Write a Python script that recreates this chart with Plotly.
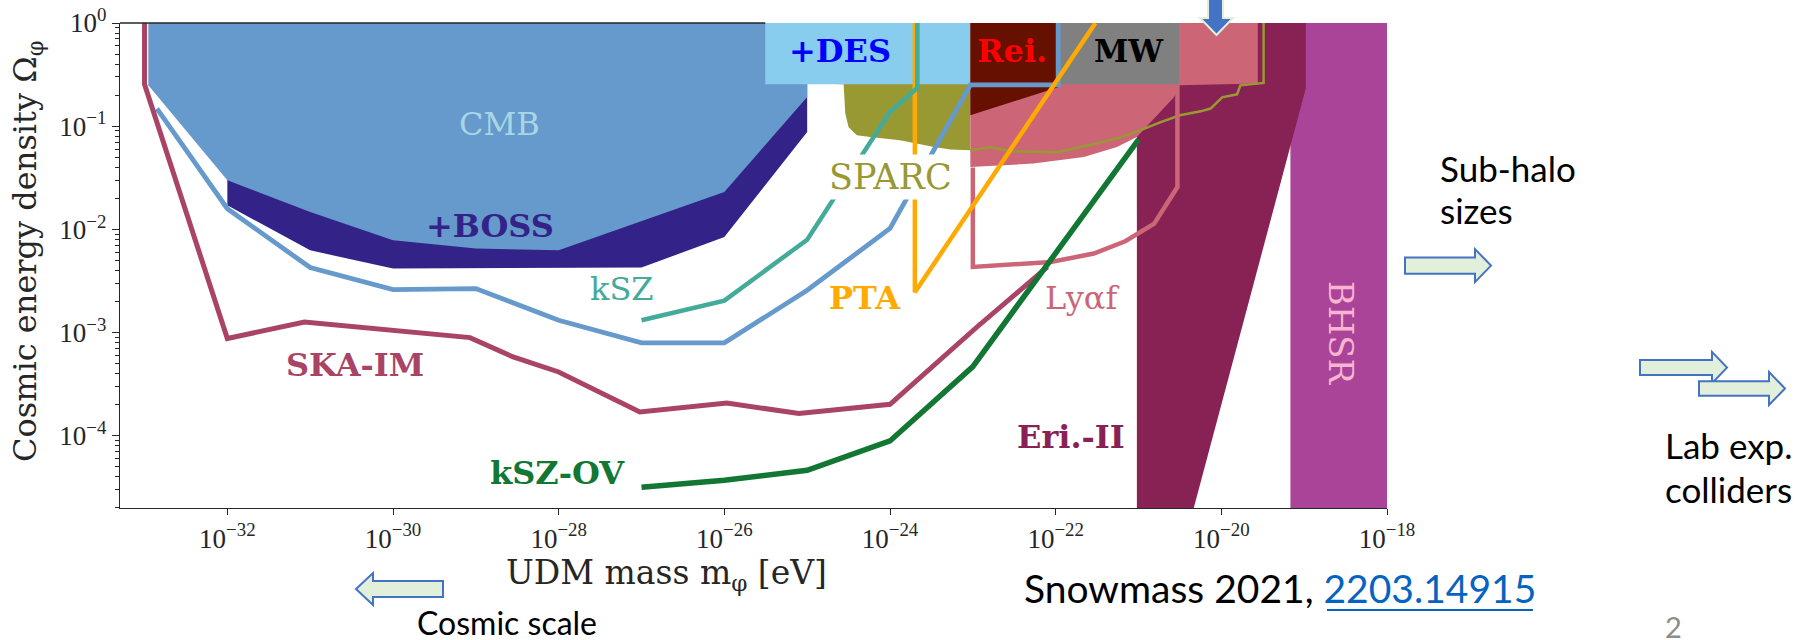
import plotly.graph_objects as go

# ---------------- data: log10(mass / eV), log10(Omega_phi) ----------------
# filled constraint regions
boss_logm = [-32.0, -32.0, -31.0, -30.0, -27.0, -26.0, -25.0, -25.0, -25.0, -32.0]
boss_logo = [-1.524, -1.767, -2.203, -2.38, -2.37, -2.074, -1.056, -0.6, 0.0, 0.0]

cmb_logm = [-32.954, -32.954, -32.0, -31.0, -30.0, -29.0, -28.0, -26.0, -25.0, -25.0]
cmb_logo = [0.0, -0.604, -1.524, -1.831, -2.106, -2.186, -2.203, -1.638, -0.717, 0.0]

sparc_fill_logm = [-24.94, -24.94, -24.56, -24.54, -24.50, -24.40, -24.24, -24.04, -23.88,
                   -23.71, -23.47, -23.27, -23.03, -23.03]
sparc_fill_logo = [0.0, -0.587, -0.594, -0.878, -1.01, -1.088, -1.105, -1.122, -1.137,
                   -1.163, -1.202, -1.227, -1.234, 0.0]

sparc_edge_logm = [-23.03, -22.79, -22.51, -21.98, -21.52, -21.22, -20.98, -20.74, -20.50,
                   -20.25, -20.13, -20.04, -19.99, -19.81, -19.77, -19.49, -19.49]
sparc_edge_logo = [-1.234, -1.204, -1.243, -1.253, -1.171, -1.108, -1.040, -0.963, -0.894,
                   -0.856, -0.829, -0.759, -0.720, -0.691, -0.604, -0.581, 0.0]

des_logm = [-25.506, -23.03, -23.03, -25.506]
des_logo = [0.0, 0.0, -0.594, -0.594]

rei_logm = [-23.03, -21.97, -21.97, -23.03]
rei_logo = [0.0, 0.0, -0.623, -0.894]

mw_logm = [-21.97, -20.51, -20.51, -21.97]
mw_logo = [0.0, 0.0, -0.594, -0.594]

lya_fill_logm = [-23.03, -19.56, -19.56, -20.51, -20.57, -21.02, -21.26, -21.66, -22.27, -23.03]
lya_fill_logo = [0.0, 0.0, -0.587, -0.604, -0.717, -1.105, -1.202, -1.298, -1.362, -1.395]

eri_logm = [-21.02, -21.02, -18.98, -18.98, -20.333]
eri_logo = [-4.70, 0.0, 0.0, -0.633, -4.70]

bhsr_logm = [-19.166, -18.0, -18.0, -19.166]
bhsr_logo = [0.0, 0.0, -4.70, -4.70]

# forecast / projection curves
lya_line_logm = [-20.53, -20.53, -20.81, -21.16, -21.54, -22.06, -23.0, -23.0]
lya_line_logo = [-0.60, -1.59, -1.945, -2.115, -2.234, -2.316, -2.364, -1.40]

blue_logm = [-32.85, -32.0, -31.0, -30.0, -29.0, -28.0, -27.0, -26.0, -25.0, -24.0, -23.03, -21.97, -21.97]
blue_logo = [-0.83, -1.80, -2.37, -2.583, -2.574, -2.881, -3.10, -3.10, -2.59, -1.99, -0.60, -0.60, 0.0]

pta_logm = [-23.70, -23.70, -21.52]
pta_logo = [0.0, -2.61, 0.0]

ksz_logm = [-27.0, -26.0, -25.0, -24.0, -23.67, -23.67]
ksz_logo = [-2.88, -2.69, -2.10, -0.86, -0.63, 0.0]

ska_logm = [-33.0, -33.0, -32.0, -31.07, -29.07, -28.55, -28.0, -27.02, -25.97, -25.10, -24.0, -22.95, -22.10]
ska_logo = [0.0, -0.594, -3.058, -2.897, -3.049, -3.236, -3.382, -3.769, -3.682, -3.785, -3.695, -2.946, -2.364]

ov_logm = [-27.0, -26.0, -25.0, -24.0, -23.0, -22.0, -21.0]
ov_logo = [-4.50, -4.43, -4.335, -4.05, -3.33, -2.23, -1.13]

# labels
label_text = ["CMB", "+BOSS", "kSZ", "SKA-IM", "kSZ-OV", "PTA", "SPARC", "+DES",
              "Rei.", "MW", "Ly\u03b1f", "Eri.-II", "BHSR"]
label_logm = [-28.71, -28.83, -27.23, -30.46, -28.01, -24.30, -24.00, -24.60,
              -22.53, -21.11, -21.68, -21.81, -18.56]
label_logo = [-0.977, -1.965, -2.576, -3.317, -4.363, -2.663, -1.49, -0.269,
              -0.269, -0.269, -2.668, -4.01, -3.007]
label_color = ["#A9D6E5", "#332288", "#44AA99", "#AA4466", "#117733", "#FFAA00", "#999933",
               "#0000FF", "#FF0000", "#000000", "#CC6677", "#882255", "#F8B4D0"]
label_bold = [False, True, False, True, True, True, False, True, True, True, False, True, False]
label_size = [32, 32, 32, 32, 32, 32, 35, 32, 32, 31, 32, 32, 34]
label_angle = [0, 0, 0, 0, 0, 0, 0, 0, 0, 0, 0, 0, 90]

x_tick_exp = [-32, -30, -28, -26, -24, -22, -20, -18]
y_tick_exp = [0, -1, -2, -3, -4]
x_range_log = [-33.296, -18.0]
y_range_log = [-4.70, 0.0]

# ---------------- figure ----------------
W, H = 1797, 640
ML, MR, MT, MB = 120, 410, 23, 132
PW, PH = W - ML - MR, H - MT - MB


def P(v):
    return [10.0 ** a for a in v]


def fx(px):
    return (px - ML) / PW


def fy(py):
    return (H - MB - py) / PH


fig = go.Figure()


def fill(lm, lo, color):
    fig.add_trace(go.Scatter(x=P(lm), y=P(lo), mode="lines", fill="toself",
                             fillcolor=color, line=dict(width=0), hoverinfo="skip",
                             showlegend=False))


def line(lm, lo, color, w):
    fig.add_trace(go.Scatter(x=P(lm), y=P(lo), mode="lines",
                             line=dict(color=color, width=w), hoverinfo="skip",
                             showlegend=False))


fill(boss_logm, boss_logo, "#332288")
fill(cmb_logm, cmb_logo, "#6699CC")
fill(sparc_fill_logm, sparc_fill_logo, "#999933")
fill(des_logm, des_logo, "#88CCEE")
fill(bhsr_logm, bhsr_logo, "#AA4499")
fill(eri_logm, eri_logo, "#882255")
fill(lya_fill_logm, lya_fill_logo, "#CC6677")
fill(rei_logm, rei_logo, "#661100")
fill(mw_logm, mw_logo, "#808080")
line(sparc_edge_logm, sparc_edge_logo, "#999933", 2.5)
line(lya_line_logm, lya_line_logo, "#CC6677", 4.5)
line(blue_logm, blue_logo, "#6699CC", 4.8)
line(pta_logm, pta_logo, "#FFAA00", 4.5)
line(ksz_logm, ksz_logo, "#44AA99", 4.5)
line(ska_logm, ska_logo, "#AA4466", 5)
line(ov_logm, ov_logo, "#117733", 5.5)

SERIF = "DejaVu Serif"
annotations = []
for t, lm, lo, c, b, s, a in zip(label_text, label_logm, label_logo, label_color, label_bold,
                                 label_size, label_angle):
    txt = f"<b>{t}</b>" if b else t
    ann = dict(x=lm, y=lo, xref="x", yref="y", text=txt, showarrow=False,
               font=dict(family=SERIF, size=s, color=c), textangle=a,
               xanchor="center", yanchor="middle")
    if t == "SPARC":
        ann.update(bgcolor="white", borderpad=2)
    annotations.append(ann)

# axis titles
annotations.append(dict(x=fx(666), y=fy(574), xref="paper", yref="paper",
                        text="UDM mass m<sub>\u03c6</sub> [eV]", showarrow=False,
                        font=dict(family=SERIF, size=33, color="#262626"),
                        xanchor="center", yanchor="middle"))
annotations.append(dict(x=fx(27), y=fy(252), xref="paper", yref="paper",
                        text="Cosmic energy density \u03a9<sub>\u03c6</sub>", showarrow=False,
                        font=dict(family=SERIF, size=32, color="#262626"), textangle=-90,
                        xanchor="center", yanchor="middle"))

# slide texts
SANS = "Lato"
slide_texts = [("Sub-halo", 1438, 168, "black", 35), ("sizes", 1438, 210, "black", 35),
               ("Lab exp.", 1663, 445, "black", 35), ("colliders", 1663, 489, "black", 35),
               ("Cosmic scale", 415, 622, "black", 32)]
for t, px, py, c, s in slide_texts:
    annotations.append(dict(x=fx(px), y=fy(py), xref="paper", yref="paper", text=t,
                            showarrow=False, font=dict(family=SANS, size=s, color=c),
                            xanchor="left", yanchor="middle"))
annotations.append(dict(x=fx(1022), y=fy(588), xref="paper", yref="paper",
                        text="Snowmass 2021, <span style='color:#0563C1'>2203.14915</span>",
                        showarrow=False, font=dict(family=SANS, size=39, color="black"),
                        xanchor="left", yanchor="middle"))
annotations.append(dict(x=fx(1673), y=fy(626), xref="paper", yref="paper", text="2",
                        showarrow=False, font=dict(family=SANS, size=29, color="#8C8C8C"),
                        xanchor="center", yanchor="middle"))

shapes = []


def poly(pts, fillc, linec, lw):
    d = "M " + " L ".join(f"{fx(a):.5f},{fy(b):.5f}" for a, b in pts) + " Z"
    shapes.append(dict(type="path", xref="paper", yref="paper", path=d,
                       fillcolor=fillc, line=dict(color=linec, width=lw), layer="above"))


def arrow_right(x0, x1, xt, yc, hs, hh):
    poly([(x0, yc - hs), (x1, yc - hs), (x1, yc - hh), (xt, yc), (x1, yc + hh),
          (x1, yc + hs), (x0, yc + hs)], "#E2EFDA", "#4472C4", 2)


arrow_right(1405, 1475, 1491, 265.6, 8.2, 16.5)
arrow_right(1640, 1712, 1727, 367.6, 7.5, 15.7)
arrow_right(1699, 1769, 1785, 388.5, 7.2, 16.5)
# left arrow (cosmic scale)
poly([(443, 581), (373, 581), (373, 573), (356, 589), (373, 605), (373, 597), (443, 597)],
     "#E2EFDA", "#4472C4", 2)
# down arrow at top
poly([(1208, -2), (1223, -2), (1223, 18), (1233, 18), (1216.5, 35), (1200, 18), (1208, 18)],
     "#4472C4", "#E2EFDA", 2)
# underline of link
shapes.append(dict(type="line", xref="paper", yref="paper", x0=fx(1327), x1=fx(1533),
                   y0=fy(610), y1=fy(610), line=dict(color="#0563C1", width=2)))
# top spine (visible only left of the DES box)
xr = x_range_log[1] - x_range_log[0]
shapes.append(dict(type="line", xref="paper", yref="paper", x0=0,
                   x1=(des_logm[0] - x_range_log[0]) / xr, y0=1, y1=1,
                   line=dict(color="#262626", width=1.3), layer="above"))

TICKFONT = dict(family="Liberation Serif", size=27, color="#262626")
fig.update_layout(
    template="none",
    width=W, height=H, margin=dict(l=ML, r=MR, t=MT, b=MB, pad=0, autoexpand=False),
    paper_bgcolor="white", plot_bgcolor="white", showlegend=False,
    annotations=annotations, shapes=shapes,
    xaxis=dict(type="log", range=x_range_log, showgrid=False, zeroline=False, automargin=False,
               showline=True, linecolor="#262626", linewidth=1.3,
               ticks="outside", ticklen=6, tickwidth=1.2, tickcolor="#262626",
               tickvals=[10.0 ** e for e in x_tick_exp],
               ticktext=[f"10<sup>\u2212{-e}</sup>" for e in x_tick_exp],
               tickfont=TICKFONT),
    yaxis=dict(type="log", range=y_range_log, showgrid=False, zeroline=False, automargin=False,
               showline=True, linecolor="#262626", linewidth=1.3,
               ticks="outside", ticklen=7, tickwidth=1.2, tickcolor="#262626",
               tickvals=[10.0 ** e for e in y_tick_exp],
               ticktext=[f"10<sup>{'\u2212' if e < 0 else ''}{abs(e)}</sup>" for e in y_tick_exp],
               tickfont=TICKFONT,
               minor=dict(ticks="outside", ticklen=4, tickwidth=1, tickcolor="#262626",
                          dtick="D1", showgrid=False)),
)

fig.write_html("out.html", config={"displayModeBar": False},
               post_script="document.body.style.margin='0';document.body.style.overflow='hidden';")
